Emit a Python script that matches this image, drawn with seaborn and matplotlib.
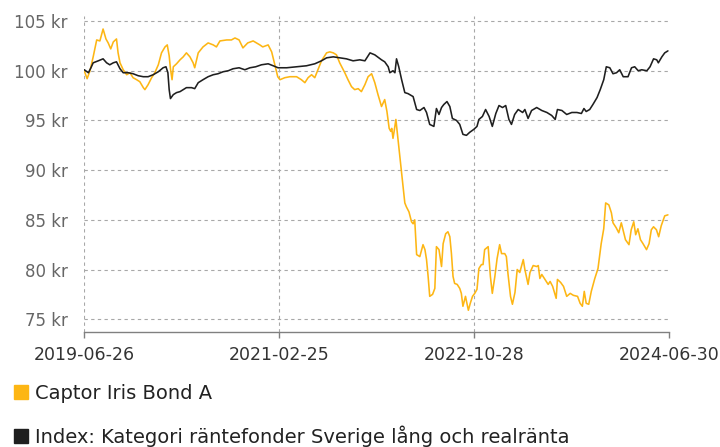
import matplotlib
matplotlib.use("Agg")
import matplotlib.pyplot as plt
import matplotlib.ticker as mticker
from matplotlib.lines import Line2D
import seaborn as sns
import pandas as pd

START = "2019-06-26"

# Days since start date and fund value (kr) -- Captor Iris Bond A
captor_days = [0, 9, 18, 28, 39, 49, 59, 68, 75, 83, 91, 101, 106, 112, 122, 133, 143, 153, 164, 174,
               185, 190, 200, 211, 221, 232, 242, 253, 260, 266, 270, 275, 279, 289, 300, 310, 320, 331, 341, 346,
               357, 372, 388, 404, 414, 425, 446, 461, 472, 485, 497, 512, 529, 550, 559, 576, 587, 597, 606, 613,
               628, 644, 665, 680, 691, 701, 712, 722, 732, 743, 759, 769, 780, 790, 800, 816, 826, 837, 847, 858,
               868, 879, 889, 900, 910, 920, 931, 941, 948, 955, 960, 963, 967, 971, 976, 983, 989, 994, 999, 1004,
               1009, 1017, 1025, 1030, 1035, 1041, 1051, 1061, 1067, 1072, 1077, 1082, 1091, 1098, 1103, 1111, 1119, 1124, 1132, 1139,
               1145, 1150, 1155, 1160, 1168, 1176, 1181, 1186, 1194, 1199, 1203, 1209, 1216, 1223, 1230, 1236, 1244, 1249, 1254, 1265,
               1272, 1278, 1286, 1293, 1301, 1307, 1317, 1322, 1327, 1335, 1341, 1349, 1356, 1364, 1375, 1380, 1390, 1396, 1406, 1417,
               1422, 1427, 1433, 1443, 1453, 1459, 1467, 1478, 1482, 1492, 1501, 1511, 1522, 1532, 1545, 1553, 1560, 1566, 1572, 1580,
               1588, 1599, 1609, 1619, 1627, 1633, 1643, 1651, 1656, 1666, 1674, 1682, 1689, 1695, 1706, 1713, 1721, 1727, 1734, 1742,
               1750, 1761, 1769, 1776, 1783, 1792, 1799, 1807, 1818, 1828]
captor_vals = [100.0, 99.2, 100.0, 101.4, 103.1, 103.0, 104.2, 103.2, 102.8, 102.2, 102.9, 103.2, 101.8, 100.8, 100.1, 99.6, 99.8, 99.3, 99.1, 98.9,
               98.3, 98.1, 98.6, 99.3, 99.8, 100.6, 101.8, 102.4, 102.6, 101.5, 100.2, 99.1, 100.4, 100.7, 101.1, 101.4, 101.8, 101.4, 100.8, 100.3,
               101.8, 102.4, 102.8, 102.6, 102.4, 103.0, 103.1, 103.1, 103.3, 103.1, 102.3, 102.8, 103.0, 102.6, 102.4, 102.6, 101.9, 100.6, 99.4, 99.1,
               99.3, 99.4, 99.4, 99.1, 98.8, 99.3, 99.6, 99.3, 100.1, 101.0, 101.8, 101.9, 101.8, 101.6, 100.8, 99.8, 99.1, 98.4, 98.1, 98.2,
               97.9, 98.6, 99.4, 99.7, 98.8, 97.6, 96.4, 97.1, 95.9, 94.2, 93.9, 94.2, 93.2, 94.0, 95.1, 93.0, 91.2, 89.7, 88.3, 86.7,
               86.3, 85.8, 84.8, 84.6, 85.0, 81.5, 81.3, 82.5, 82.0, 81.0, 79.3, 77.3, 77.5, 78.1, 82.3, 82.0, 80.3, 82.6, 83.6, 83.8,
               83.3, 81.6, 79.3, 78.6, 78.5, 78.1, 77.6, 76.3, 77.3, 76.5, 75.9, 76.6, 77.3, 77.6, 78.0, 80.1, 80.5, 80.5, 82.0, 82.3,
               79.3, 77.6, 79.3, 81.1, 82.5, 81.6, 81.6, 81.3, 79.6, 77.3, 76.5, 77.7, 80.0, 79.7, 81.0, 80.0, 78.5, 79.7, 80.4, 80.3,
               80.4, 79.1, 79.5, 79.0, 78.5, 78.8, 78.3, 77.1, 79.0, 78.7, 78.3, 77.3, 77.6, 77.4, 77.3, 76.6, 76.3, 77.8, 76.6, 76.5,
               77.8, 79.1, 80.1, 82.6, 84.1, 86.7, 86.5, 85.7, 84.7, 84.2, 83.7, 84.7, 83.8, 83.0, 82.5, 84.0, 84.8, 83.5, 84.1, 83.0,
               82.6, 82.0, 82.6, 84.0, 84.3, 84.0, 83.3, 84.4, 85.4, 85.5]

# Days since start date and value (kr) -- category index
index_days = [0, 13, 21, 28, 44, 59, 70, 80, 91, 101, 112, 122, 138, 153, 169, 185, 200, 216, 232, 247,
              256, 262, 266, 270, 279, 289, 300, 310, 320, 336, 346, 357, 372, 388, 404, 419, 435, 451, 466, 485,
              503, 519, 537, 555, 576, 592, 607, 634, 665, 696, 722, 743, 759, 780, 800, 821, 842, 863, 879, 895,
              910, 931, 941, 952, 957, 967, 973, 978, 985, 994, 1004, 1014, 1030, 1041, 1051, 1064, 1072, 1082, 1095, 1103,
              1111, 1119, 1126, 1136, 1145, 1153, 1166, 1176, 1186, 1197, 1207, 1220, 1230, 1236, 1247, 1257, 1268, 1278, 1289, 1299,
              1310, 1320, 1330, 1338, 1348, 1359, 1373, 1380, 1390, 1401, 1417, 1433, 1449, 1464, 1475, 1482, 1496, 1511, 1527, 1543,
              1557, 1565, 1572, 1583, 1593, 1606, 1616, 1627, 1635, 1646, 1656, 1667, 1677, 1688, 1703, 1714, 1724, 1735, 1746, 1762,
              1772, 1783, 1793, 1798, 1809, 1818, 1828]
index_vals = [100.1, 99.8, 100.3, 100.8, 101.0, 101.2, 100.8, 100.6, 100.8, 100.9, 100.2, 99.8, 99.8, 99.7, 99.5, 99.4, 99.4, 99.6, 99.9, 100.3,
              100.4, 99.8, 98.1, 97.2, 97.6, 97.8, 97.9, 98.1, 98.3, 98.3, 98.2, 98.8, 99.1, 99.4, 99.6, 99.7, 99.9, 100.0, 100.2, 100.3,
              100.1, 100.3, 100.4, 100.6, 100.7, 100.5, 100.3, 100.3, 100.4, 100.5, 100.7, 101.0, 101.3, 101.4, 101.3, 101.2, 101.0, 101.1, 101.0, 101.8,
              101.6, 101.1, 100.9, 100.4, 99.8, 100.0, 99.8, 101.2, 100.4, 99.1, 97.8, 97.7, 97.4, 96.1, 96.0, 96.3, 95.8, 94.6, 94.4, 96.2,
              95.6, 96.3, 96.6, 96.9, 96.4, 95.2, 95.0, 94.6, 93.6, 93.5, 93.8, 94.1, 94.4, 95.1, 95.4, 96.1, 95.4, 94.4, 95.7, 96.5,
              96.3, 96.5, 95.1, 94.6, 95.6, 96.1, 95.8, 96.1, 95.2, 96.0, 96.3, 96.0, 95.8, 95.5, 95.1, 96.1, 96.0, 95.6, 95.8, 95.8,
              95.7, 96.2, 95.9, 96.1, 96.6, 97.3, 98.1, 99.1, 100.4, 100.3, 99.7, 99.8, 100.1, 99.4, 99.4, 100.3, 100.4, 100.0, 100.1, 100.0,
              100.4, 101.2, 101.1, 100.8, 101.4, 101.8, 102.0]

series_names = ["Captor Iris Bond A", "Index: Kategori räntefonder Sverige lång och realränta"]
series_colors = ["#FDB614", "#1f1f1f"]
tick_dates = ["2019-06-26", "2021-02-25", "2022-10-28", "2024-06-30"]
y_ticks = [75, 80, 85, 90, 95, 100, 105]

start = pd.Timestamp(START)
df_c = pd.DataFrame({"date": start + pd.to_timedelta(captor_days, unit="D"), "value": captor_vals})
df_i = pd.DataFrame({"date": start + pd.to_timedelta(index_days, unit="D"), "value": index_vals})

sns.set_theme(style="white")
plt.rcParams["font.family"] = ["DejaVu Sans"]

fig = plt.figure(figsize=(7.2, 4.47), dpi=100)
ax = fig.add_axes([0.117, 0.257, 0.812, 0.707])

sns.lineplot(data=df_i, x="date", y="value", ax=ax, color=series_colors[1], linewidth=1.15, zorder=3)
sns.lineplot(data=df_c, x="date", y="value", ax=ax, color=series_colors[0], linewidth=1.15, zorder=2)

ax.set_xlim(pd.Timestamp(tick_dates[0]), pd.Timestamp(tick_dates[-1]))
ax.set_ylim(73.7, 105.5)
ax.set_xticks([pd.Timestamp(d) for d in tick_dates])
ax.set_xticklabels(tick_dates)
ax.set_yticks(y_ticks)
ax.yaxis.set_major_formatter(mticker.FuncFormatter(lambda v, p: f"{int(v)} kr"))
ax.set_xlabel("")
ax.set_ylabel("")

ax.grid(True, axis="both", color="#a8a8a8", linestyle=(0, (3, 3)), linewidth=0.8)
ax.get_xgridlines()[-1].set_visible(False)
for s in ["top", "right", "left"]:
    ax.spines[s].set_visible(False)
ax.spines["bottom"].set_color("#808080")
ax.spines["bottom"].set_linewidth(1.0)

ax.tick_params(axis="y", length=0, pad=12, labelsize=12, labelcolor="#666666")
ax.tick_params(axis="x", length=4, width=1, color="#808080", direction="out", pad=6,
               labelsize=12.5, labelcolor="#333333", bottom=True)

handles = [Line2D([0], [0], marker="s", linestyle="none", markersize=10,
                  markerfacecolor=c, markeredgecolor=c) for c in series_colors]
fig.legend(handles, series_names, loc="upper left", bbox_to_anchor=(0.008, 0.158),
           frameon=False, fontsize=14, handlelength=0.8, handletextpad=0.3,
           labelspacing=1.15, borderaxespad=0, labelcolor="#222222")

fig.savefig("out.png", dpi=100)
